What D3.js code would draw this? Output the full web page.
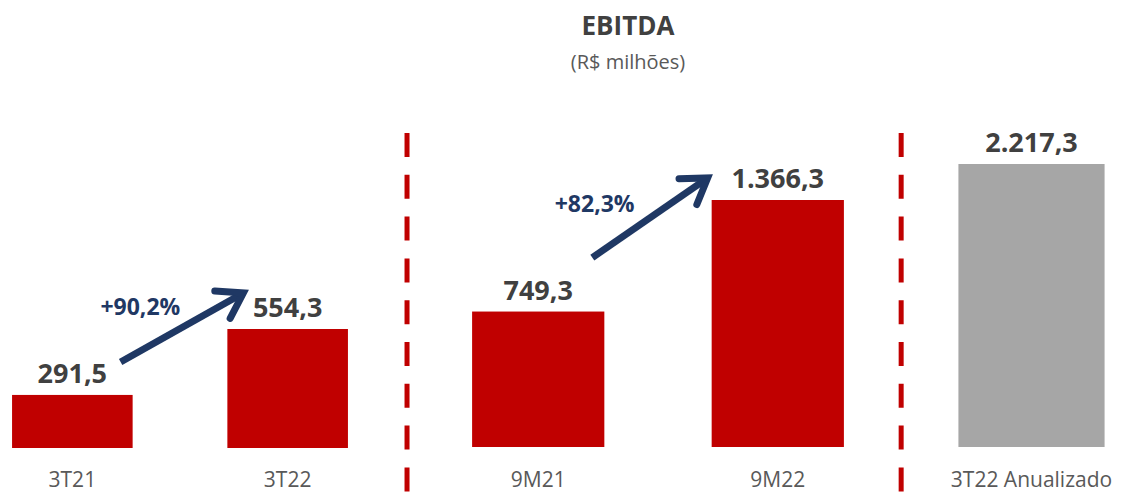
<!DOCTYPE html>
<meta charset="utf-8">
<script src="https://d3js.org/d3.v7.min.js"></script>
<style>
  body { margin: 0; background: #fff; }
  text { font-family: "Open Sans", "Liberation Sans", sans-serif; }
</style>
<div id="chart"></div>
<script>
  // data
  var categories = ["3T21", "3T22", "9M21", "9M22", "3T22 Anualizado"];
  var values = [291.5, 554.3, 749.3, 1366.3, 2217.3];
  var valueLabels = ["291,5", "554,3", "749,3", "1.366,3", "2.217,3"];
  var growthLabels = ["+90,2%", "+82,3%"];

  var width = 1122, height = 492;

  var svg = d3.select("#chart").append("svg")
    .attr("width", width).attr("height", height);

  // each panel is its own little chart with its own scale
  var panels = [
    {cats: [0, 1], xr: [0, 360], pad: 0.44, outer: 0.056, ydom: [80, 554.3], yr: [448, 329], color: "#C00000"},
    {cats: [2, 3], xr: [440, 876], pad: 0.448, outer: 0.134, ydom: [0, 1366.3], yr: [447, 200], color: "#C00000"},
    {cats: [4], xr: [930, 1133], pad: 0.28, outer: 0.14, ydom: [0, 2217.3], yr: [447, 164], color: "#A6A6A6"}
  ];

  panels.forEach(function(p) {
    p.x = d3.scaleBand().domain(p.cats).range(p.xr).paddingInner(p.pad).paddingOuter(p.outer);
    p.y = d3.scaleLinear().domain(p.ydom).range(p.yr);
    var g = svg.append("g");

    g.selectAll("rect").data(p.cats).enter().append("rect")
      .attr("x", function(i) { return p.x(i); })
      .attr("width", p.x.bandwidth())
      .attr("y", function(i) { return p.y(values[i]); })
      .attr("height", function(i) { return p.y(p.ydom[0]) - p.y(values[i]); })
      .attr("fill", p.color);

    g.selectAll(".val").data(p.cats).enter().append("text")
      .attr("class", "val")
      .attr("x", function(i) { return p.x(i) + p.x.bandwidth() / 2; })
      .attr("y", function(i) { return p.y(values[i]) - 12; })
      .attr("text-anchor", "middle")
      .style("font-size", "27px").style("font-weight", "bold")
      .style("fill", "#404040")
      .text(function(i) { return valueLabels[i]; });

    g.selectAll(".cat").data(p.cats).enter().append("text")
      .attr("class", "cat")
      .attr("x", function(i) { return p.x(i) + p.x.bandwidth() / 2; })
      .attr("y", 487)
      .attr("text-anchor", "middle")
      .style("font-size", "21px")
      .style("fill", "#595959")
      .text(function(i) { return categories[i]; });
  });

  // growth arrows between the two bars of panel 1 and 2
  var arrows = [
    {p: 0, from: [-12, -33], to: [16, -36], label: [-103, 22]},
    {p: 1, from: [-12, -54], to: [-4, -22], label: [-113, 34]}
  ];
  var navy = "#1F3864";
  arrows.forEach(function(a, k) {
    var p = panels[a.p];
    var i0 = p.cats[0], i1 = p.cats[1];
    var x0 = p.x(i0) + p.x.bandwidth() + a.from[0], y0 = p.y(values[i0]) + a.from[1];
    var x1 = p.x(i1) + a.to[0], y1 = p.y(values[i1]) + a.to[1];
    var ang = Math.atan2(y1 - y0, x1 - x0);
    var L = 27, spread = 0.62;
    var tx = x1 - 2 * Math.cos(ang), ty = y1 - 2 * Math.sin(ang);
    svg.append("line")
      .attr("x1", x0).attr("y1", y0).attr("x2", tx).attr("y2", ty)
      .attr("stroke", navy).attr("stroke-width", 7);
    var head = d3.line()([
      [tx - L * Math.cos(ang - spread), ty - L * Math.sin(ang - spread)],
      [x1, y1],
      [tx - L * Math.cos(ang + spread), ty - L * Math.sin(ang + spread)]
    ]);
    svg.append("path").attr("d", head)
      .attr("fill", "none").attr("stroke", navy).attr("stroke-width", 7)
      .attr("stroke-linecap", "round").attr("stroke-linejoin", "miter");
    svg.append("text")
      .attr("x", x1 + a.label[0]).attr("y", y1 + a.label[1])
      .attr("text-anchor", "middle")
      .style("font-size", "23px").style("font-weight", "bold")
      .style("fill", navy)
      .text(growthLabels[k]);
  });

  // dashed separators between panels, midway between neighbouring bars
  var separators = [
    (panels[0].x(1) + panels[0].x.bandwidth() + panels[1].x(2)) / 2 - 3,
    (panels[1].x(3) + panels[1].x.bandwidth() + panels[2].x(4)) / 2
  ];
  svg.selectAll(".sep").data(separators).enter().append("line")
    .attr("x1", function(d) { return d; }).attr("x2", function(d) { return d; })
    .attr("y1", 133).attr("y2", height)
    .attr("stroke", "#C00000").attr("stroke-width", 5)
    .attr("stroke-dasharray", "24,17.8");

  // title
  svg.append("text").attr("x", 628).attr("y", 35).attr("text-anchor", "middle")
    .style("font-size", "26px").style("font-weight", "bold").style("fill", "#404040")
    .text("EBITDA");
  svg.append("text").attr("x", 628).attr("y", 69).attr("text-anchor", "middle")
    .style("font-size", "20px").style("fill", "#595959")
    .text("(R$ milhões)");
</script>
